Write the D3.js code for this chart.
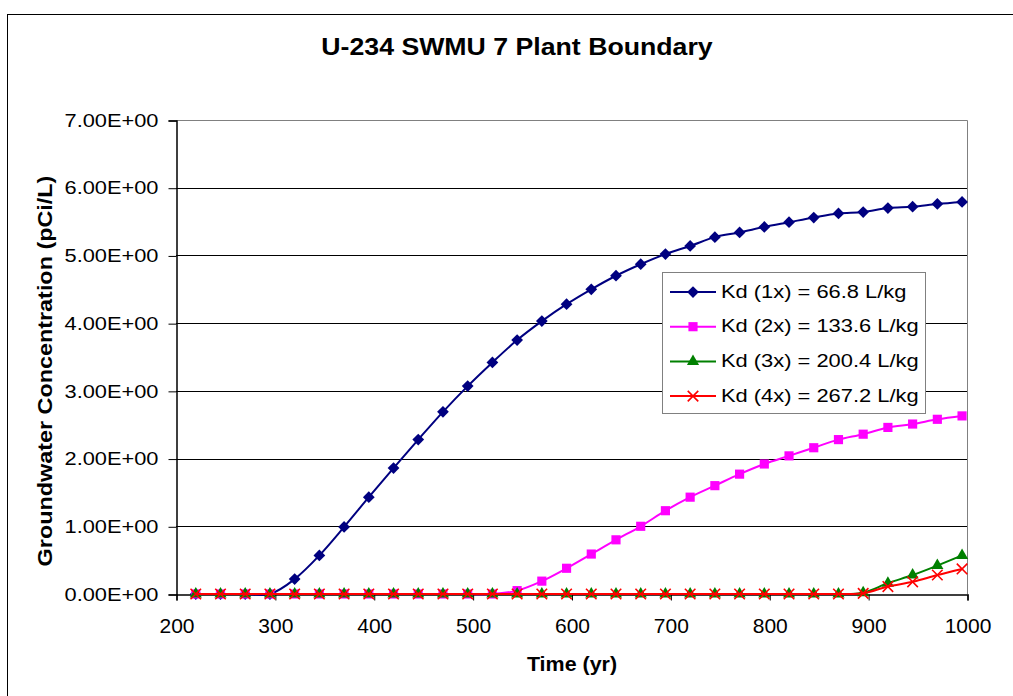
<!DOCTYPE html>
<html><head><meta charset="utf-8">
<script src="https://cdn.jsdelivr.net/npm/d3@7/dist/d3.min.js"></script>
<style>body{margin:0;background:#fff}svg{display:block}text{font-family:"Liberation Sans",Arial,sans-serif}</style>
</head><body>
<script>
const years = [220,245,270,295,320,345,370,395,420,445,470,495,520,545,570,595,620,645,670,695,720,745,770,795,820,845,870,895,920,945,970,995];
const kd1 = [0,0,0,0,0.22,0.57,0.99,1.43,1.86,2.28,2.69,3.07,3.42,3.75,4.03,4.28,4.50,4.70,4.87,5.02,5.14,5.27,5.34,5.42,5.49,5.56,5.62,5.64,5.70,5.72,5.76,5.79];
const kd2 = [0,0,0,0,0,0,0,0,0,0,0,0,0,0.05,0.19,0.38,0.59,0.80,1.00,1.23,1.43,1.60,1.77,1.92,2.04,2.16,2.28,2.36,2.46,2.51,2.58,2.63];
const kd3 = [0,0,0,0,0,0,0,0,0,0,0,0,0,0,0,0,0,0,0,0,0,0,0,0,0,0,0,0.02,0.16,0.28,0.42,0.57];
const kd4 = [0,0,0,0,0,0,0,0,0,0,0,0,0,0,0,0,0,0,0,0,0,0,0,0,0,0,0,0.01,0.11,0.18,0.28,0.37];
const seriesNames = ["Kd (1x) = 66.8 L/kg","Kd (2x) = 133.6 L/kg","Kd (3x) = 200.4 L/kg","Kd (4x) = 267.2 L/kg"];
const xTicks = [200,300,400,500,600,700,800,900,1000];
const yTicks = [0,1,2,3,4,5,6,7];
const title = "U-234 SWMU 7 Plant Boundary";
const xTitle = "Time (yr)";
const yTitle = "Groundwater Concentration (pCi/L)";

const W = 1013, H = 696;
const L = 176, R = 967, T = 120, B = 594;
const svg = d3.select("body").append("svg").attr("width", W).attr("height", H);

function stretch(sel, f) {
  sel.each(function () {
    const w = this.getComputedTextLength();
    d3.select(this).attr("textLength", w * f).attr("lengthAdjust", "spacingAndGlyphs");
  });
}
function stretchTo(sel, width) {
  sel.attr("textLength", width).attr("lengthAdjust", "spacingAndGlyphs");
}

svg.append("rect").attr("x", 7.5).attr("y", 14.5).attr("width", W + 20).attr("height", H + 20)
  .attr("fill", "none").attr("stroke", "#000").attr("stroke-width", 1);

const x = d3.scaleLinear().domain([200, 1000]).range([L, R]);
const y = d3.scaleLinear().domain([0, 7]).range([B, T]);

// gridlines
svg.append("g").selectAll("line").data(yTicks.filter(v => v > 0 && v < 7)).join("line")
  .attr("x1", L).attr("x2", R).attr("y1", d => Math.round(y(d)) + 0.5).attr("y2", d => Math.round(y(d)) + 0.5)
  .attr("stroke", "#000").attr("stroke-width", 1);
// plot border top/right
svg.append("path").attr("d", `M${L},${T + 0.5}H${R + 0.5}V${B}`).attr("fill", "none").attr("stroke", "#808080").attr("stroke-width", 1);

function sci(v) {
  const s = v.toExponential(2).toUpperCase();
  const [m, e] = s.split("E");
  const sign = e[0] === "-" ? "-" : "+";
  const d = e.replace(/[+-]/, "").padStart(2, "0");
  return m + "E" + sign + d;
}

const yAxis = d3.axisLeft(y).tickValues(yTicks).tickFormat(sci).tickSize(8).tickPadding(10);
const gy = svg.append("g").attr("transform", `translate(${L + 0.5},0.5)`).call(yAxis);
gy.attr("font-family", null).attr("font-size", null);
gy.select(".domain").attr("stroke", "#000").attr("stroke-width", 1.5);
gy.selectAll(".tick line").attr("stroke", "#000");
gy.selectAll("text").attr("font-size", 18).attr("fill", "#000").call(stretchTo, 94);

const xAxis = d3.axisBottom(x).tickValues(xTicks).tickFormat(d3.format("d")).tickSize(6).tickPadding(16);
const gx = svg.append("g").attr("transform", `translate(0.5,${B + 0.5})`).call(xAxis);
gx.attr("font-family", null).attr("font-size", null);
gx.select(".domain").attr("stroke", "#000").attr("stroke-width", 1.5);
gx.selectAll(".tick line").attr("stroke", "#000");
gx.selectAll("text").attr("font-size", 21).attr("fill", "#000").attr("dy", "0").attr("y", 38);

const colors = ["#000080", "#FF00FF", "#008000", "#FF0000"];
const data = [kd1, kd2, kd3, kd4];
const line = d3.line().x((d, i) => x(years[i])).y(d => y(d)).curve(d3.curveCatmullRom.alpha(0));

const symbols = [
  d3.symbol().type(d3.symbolDiamond2).size(88),
  d3.symbol().type(d3.symbolSquare).size(84),
  d3.symbol().type(d3.symbolTriangle).size(64),
  d3.symbol().type(d3.symbolX).size(74)
];

data.forEach((vals, s) => {
  const g = svg.append("g");
  g.append("path").attr("d", line(vals)).attr("fill", "none").attr("stroke", colors[s]).attr("stroke-width", 2);
  g.selectAll("path.m").data(vals).join("path").attr("class", "m")
    .attr("transform", (d, i) => `translate(${x(years[i])},${y(d)})`)
    .attr("d", symbols[s]())
    .attr("fill", s === 3 ? "none" : colors[s])
    .attr("stroke", colors[s]).attr("stroke-width", s === 3 ? 1.6 : 0);
});

// legend
const lg = svg.append("g");
lg.append("rect").attr("x", 662.5).attr("y", 272.5).attr("width", 263).attr("height", 141)
  .attr("fill", "#fff").attr("stroke", "#808080").attr("stroke-width", 1);
seriesNames.forEach((name, s) => {
  const cy = 292 + s * 34.7;
  lg.append("line").attr("x1", 670).attr("x2", 716).attr("y1", cy).attr("y2", cy).attr("stroke", colors[s]).attr("stroke-width", 2);
  lg.append("path").attr("transform", `translate(693,${cy})`).attr("d", symbols[s]())
    .attr("fill", s === 3 ? "none" : colors[s]).attr("stroke", colors[s]).attr("stroke-width", s === 3 ? 1.6 : 0);
  lg.append("text").attr("x", 721).attr("y", cy + 5.5).attr("font-size", 17.5).attr("fill", "#000").text(name)
    .call(stretch, 1.25);
});

svg.append("text").attr("x", 517).attr("y", 55).attr("text-anchor", "middle").attr("font-size", 23)
  .attr("font-weight", "bold").attr("fill", "#000").text(title).call(stretch, 1.16);
svg.append("text").attr("x", 572).attr("y", 671).attr("text-anchor", "middle").attr("font-size", 19.5)
  .attr("font-weight", "bold").attr("fill", "#000").text(xTitle).call(stretch, 1.1);
svg.append("text").attr("transform", "translate(52,371) rotate(-90)").attr("text-anchor", "middle").attr("font-size", 20.5)
  .attr("font-weight", "bold").attr("fill", "#000").text(yTitle).call(stretch, 1.14);
</script>
</body></html>
